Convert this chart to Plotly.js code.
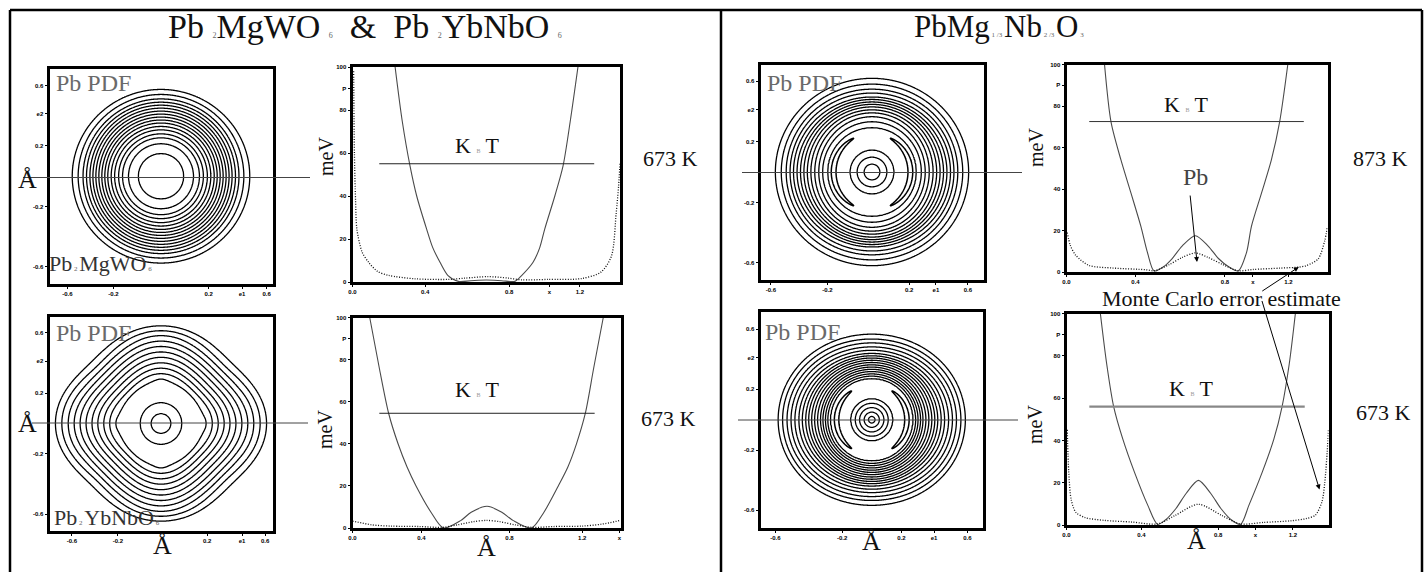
<!DOCTYPE html>
<html><head><meta charset="utf-8">
<script src="https://cdn.plot.ly/plotly-3.0.1.min.js"></script>
<style>body{margin:0;background:#fff}#chart{width:1425px;height:572px}</style>
</head><body><div id="chart"></div>
<script>
// ================= DATA =================
// Pb PDF contour rings: radius (Å-axis units) where each ring crosses the
// horizontal (H), diagonal (D) and vertical (V) directions.
const mgwoRingsH = [0.153,0.219,0.259,0.285,0.312,0.335,0.358,0.378,0.398,0.418,0.438,0.458,0.478,0.501,0.524,0.557,0.597];
const mgwoRingsV = [0.153,0.219,0.259,0.285,0.312,0.335,0.358,0.378,0.398,0.418,0.438,0.458,0.478,0.498,0.520,0.550,0.584];

const ybnbRingsH = [0.066,0.139,0.305,0.345,0.385,0.425,0.464,0.504,0.544,0.584,0.624,0.667,0.710];
const ybnbRingsD = [0.066,0.139,0.275,0.309,0.342,0.375,0.408,0.441,0.474,0.508,0.541,0.577,0.624];
const ybnbRingsV = [0.066,0.139,0.299,0.335,0.372,0.408,0.445,0.481,0.518,0.554,0.591,0.624,0.657];

const pmn873RingsH = [0.053,0.100,0.146,0.299,0.332,0.358,0.385,0.411,0.435,0.458,0.481,0.504,0.528,0.551,0.577,0.610,0.650];
const pmn873RingsV = [0.053,0.100,0.146,0.299,0.338,0.372,0.398,0.418,0.438,0.455,0.471,0.488,0.504,0.531,0.557,0.591,0.630];
const pmn873Arc = [0.258, 0.016, 0.88];   // arc radius, half width, sin(angular half-extent)

const pmn673RingsH = [0.022,0.051,0.082,0.111,0.140,0.279,0.296,0.312,0.329,0.345,0.365,0.385,0.405,0.425,0.445,0.468,0.491,0.518,0.544,0.571,0.601,0.631];
const pmn673RingsV = [0.022,0.051,0.082,0.111,0.140,0.279,0.294,0.309,0.325,0.340,0.355,0.370,0.386,0.401,0.416,0.431,0.447,0.468,0.491,0.518,0.544,0.577];
const pmn673Arc = [0.237, 0.015, 0.82];

// Effective potentials (meV) along the Pb displacement (Å)
const mgwoSolidX = [0.223,0.26,0.301,0.336,0.388,0.42,0.458,0.50,0.554,0.62,0.70,0.78,0.85,0.885,0.945,0.98,1.006,1.059,1.102,1.14,1.18];
const mgwoSolid  = [100,75,54,40,24.6,16,9.2,3,0.3,0.6,0.9,0.6,0.3,3,9.2,16,24.6,40,54,75,100];
const mgwoDotX = [0.006,0.01,0.016,0.023,0.05,0.084,0.13,0.188,0.327,0.50,0.59,0.71,0.815,0.885,1.02,1.198,1.30,1.355,1.38,1.393,1.40];
const mgwoDot  = [98,60,38,24.6,14,9.2,5,3.1,1.5,1.2,1.8,2.5,1.8,1.0,1.2,1.6,4.6,12,32,45,55];

const ybnbSolidX = [0.09,0.14,0.189,0.238,0.285,0.332,0.41,0.475,0.565,0.62,0.703,0.78,0.84,0.935,1.00,1.075,1.125,1.17,1.216,1.26,1.31];
const ybnbSolid  = [100,76,54.4,40,29,20,7.5,0,3.5,7.5,10.3,7.5,3.5,0,7.5,20,29,40,54.4,76,100];
const ybnbDotX = [0.0,0.1,0.2,0.35,0.47,0.55,0.63,0.70,0.77,0.85,0.94,1.05,1.2,1.3,1.4];
const ybnbDot  = [3.3,1.5,0.9,0.7,0.3,1.5,3.0,3.6,3.0,1.5,0.3,0.7,0.9,1.8,3.6];

const pmn873SolidX = [0.204,0.239,0.292,0.346,0.399,0.434,0.47,0.52,0.567,0.62,0.691,0.76,0.815,0.87,0.921,0.966,0.992,1.046,1.099,1.143,1.187];
const pmn873Solid  = [100,72.2,54,38,22,9.5,0.5,2.5,6.5,12.5,17.5,12.5,6.5,2.5,0.5,9.5,22,38,54,72.2,100];
const pmn873DotX = [0.004,0.02,0.05,0.12,0.25,0.425,0.47,0.55,0.62,0.691,0.76,0.84,0.921,1.0,1.15,1.25,1.29,1.35,1.385,1.40];
const pmn873Dot  = [19,13,8,3.2,1.9,1.1,0.6,3.5,7,9.2,7,3.5,0.6,1.2,1.9,2.4,3.2,6.3,15,22];

const pmn673SolidX = [0.181,0.215,0.252,0.301,0.363,0.434,0.487,0.53,0.585,0.64,0.705,0.77,0.825,0.88,0.93,0.975,1.046,1.108,1.152,1.19,1.223];
const pmn673Solid  = [100,76,56,40.6,25,9.4,0.3,2.5,7.8,15,21.1,15,7.8,2.5,0.3,9.4,25,40.6,56,76,100];
const pmn673DotX = [0.004,0.012,0.025,0.05,0.1,0.2,0.35,0.487,0.58,0.705,0.83,0.93,1.05,1.2,1.28,1.33,1.365,1.38,1.397,1.40];
const pmn673Dot  = [45,25,12,6,3.5,2.2,1.4,0.5,4.5,9.8,4.5,0.5,1.2,2.0,3.0,4.7,11,20,40,45];

// k_B T levels (meV) and their drawn extent (Å)
const kbtMgwo = 55, kbtYbnb = 54.5, kbt873 = 72.5, kbt673 = 56;
const kbtSpanLeft  = [0.14, 1.265];
const kbtSpanRight = [0.122, 1.273];

// tick labels
const contourTickTextX = ['-0.6','-0.2','0.2','e1','0.6'];
const contourTickTextY = ['-0.6','-0.2','0.2','e2','0.6'];
const contourTickValsY = [-0.61,-0.205,0.205,0.42,0.61];
const mgwoTickValsX   = [-0.63,-0.32,0.32,0.545,0.71];
const ybnbTickValsX   = [-0.60,-0.29,0.31,0.545,0.70];
const pmn873TickValsX = [-0.68,-0.30,0.25,0.43,0.645];
const pmn673TickValsX = [-0.65,-0.20,0.20,0.42,0.645];
const potTickValsY = [0,20,40,60,80,90,100];
const potTickTextY = ['0','20','40','60','80','P','100'];
const potTickTextX = ['0.0','0.4','0.8','x','1.2'];
const potTickTextXD = ['0.0','0.4','0.8','1.2','x'];
const mgwoPotTickX = [0,0.38,0.82,1.03,1.19];
const ybnbPotTickX = [0,0.36,0.82,1.2,1.395];
const pmn873PotTickX = [0,0.37,0.85,1.0,1.19];
const pmn673PotTickX = [0,0.40,0.81,1.01,1.21];

// ================= HELPERS =================
const W = 1425, H = 572;
const PX = x => x / W, PY = y => 1 - y / H;
const SERIF = '"Liberation Serif", "Times New Roman", Times, serif';

function grid(half, n){ const a=[]; for(let i=0;i<n;i++) a.push(-half + 2*half*i/(n-1)); return a; }
function ringIndex(r, radii){
  const n = radii.length;
  if (r <= radii[0]) return r / radii[0];
  for (let k=1;k<n;k++) if (r <= radii[k]) return k + (r-radii[k-1])/(radii[k]-radii[k-1]);
  return n + (r-radii[n-1])/(radii[n-1]-radii[n-2]);
}
function fieldValue(x, y, rH, rV, rD){
  const r = Math.hypot(x,y);
  const phi = Math.atan2(Math.abs(y), Math.abs(x));
  const h = ringIndex(r,rH), v = ringIndex(r,rV);
  if (!rD){ const c = Math.cos(phi)**2; return c*h + (1-c)*v; }
  const d = ringIndex(r,rD);
  if (phi <= Math.PI/4){ const s=(1-Math.cos(4*phi))/2; return (1-s)*h + s*d; }
  const s=(1-Math.cos(4*phi-Math.PI))/2; return (1-s)*d + s*v;
}
function ringTrace(n, rH, rV, rD, halfX, halfY){
  const xs = grid(halfX, 261), ys = grid(halfY, Math.round(261*halfY/halfX));
  const z = ys.map(y => xs.map(x => fieldValue(x,y,rH,rV,rD)));
  return {type:'contour', x:xs, y:ys, z, xaxis:'x'+n, yaxis:'y'+n, autocontour:false,
    contours:{start:1,end:rH.length,size:1,coloring:'none'},
    line:{color:'#000',width:1.3,smoothing:1}, showscale:false, hoverinfo:'skip'};
}
function arcTrace(n, arc){
  const [ra, wa, sa] = arc;
  const xs = grid(0.4, 321), ys = grid(0.4, 321);
  const z = ys.map(y => xs.map(x => {
    const r = Math.hypot(x,y) || 1e-9;
    return Math.hypot((r-ra)/wa, (Math.abs(y)/r)/sa);
  }));
  return {type:'contour', x:xs, y:ys, z, xaxis:'x'+n, yaxis:'y'+n, autocontour:false,
    contours:{start:1,end:2,size:5,coloring:'none'},
    line:{color:'#000',width:1.5,smoothing:1}, showscale:false, hoverinfo:'skip'};
}
function curve(n, xs, ys, dotted){
  return {type:'scatter', mode:'lines', x:xs, y:ys, xaxis:'x'+n, yaxis:'y'+n, hoverinfo:'skip',
    line: dotted ? {color:'#111',width:1.3,dash:'1px,1.6px',shape:'spline',smoothing:0.8}
                 : {color:'#4a4a4a',width:1.1,shape:'spline',smoothing:0.8}};
}
function kbtLine(n, span, level, color, width){
  return {type:'scatter', mode:'lines', x:span, y:[level,level], xaxis:'x'+n, yaxis:'y'+n,
    hoverinfo:'skip', line:{color, width}};
}

// boxes (pixel positions of each plotting area)
const box = {
  1:{x:[49.5,272.5], y:[69,283.5]},    // Pb2MgWO6 PDF
  2:{x:[49.5,272.5], y:[316.5,530.5]}, // Pb2YbNbO6 PDF
  3:{x:[352.5,620], y:[67,282]},       // Pb2MgWO6 potential
  4:{x:[352.5,620.5], y:[317.5,528]},  // Pb2YbNbO6 potential
  5:{x:[760.5,983.5], y:[64.5,279.5]}, // PMN 873 PDF
  6:{x:[760.5,983], y:[311.5,528]},    // PMN 673 PDF
  7:{x:[1066.5,1327.5], y:[64.5,272]}, // PMN 873 potential
  8:{x:[1066.5,1328.5], y:[313.5,525]} // PMN 673 potential
};
const halfX = 0.75;
const halfY = n => halfX * (box[n].y[1]-box[n].y[0]) / (box[n].x[1]-box[n].x[0]);

// ================= TRACES =================
const traces = [
  ringTrace(1, mgwoRingsH, mgwoRingsV, null, halfX, halfY(1)),
  ringTrace(2, ybnbRingsH, ybnbRingsV, ybnbRingsD, halfX, halfY(2)),
  ringTrace(5, pmn873RingsH, pmn873RingsV, null, halfX, halfY(5)),
  arcTrace(5, pmn873Arc),
  ringTrace(6, pmn673RingsH, pmn673RingsV, null, halfX, halfY(6)),
  arcTrace(6, pmn673Arc),
  curve(3, mgwoSolidX, mgwoSolid, false), curve(3, mgwoDotX, mgwoDot, true),
  kbtLine(3, kbtSpanLeft, kbtMgwo, '#222', 1),
  curve(4, ybnbSolidX, ybnbSolid, false), curve(4, ybnbDotX, ybnbDot, true),
  kbtLine(4, kbtSpanLeft, kbtYbnb, '#222', 1),
  curve(7, pmn873SolidX, pmn873Solid, false), curve(7, pmn873DotX, pmn873Dot, true),
  kbtLine(7, kbtSpanRight, kbt873, '#333', 1),
  curve(8, pmn673SolidX, pmn673Solid, false), curve(8, pmn673DotX, pmn673Dot, true),
  kbtLine(8, kbtSpanRight, kbt673, '#888', 2.2)
];

// ================= LAYOUT =================
const tickFont = {family:'"Liberation Sans", Arial, sans-serif', size:6, color:'#000', weight:'bold'};
function axis(n, dir, extra){
  const b = box[n];
  const dom = dir==='x' ? [PX(b.x[0]), PX(b.x[1])] : [PY(b.y[1]), PY(b.y[0])];
  return Object.assign({domain:dom, anchor:(dir==='x'?'y':'x')+n, showline:true, linewidth:3,
    linecolor:'#000', mirror:true, showgrid:false, zeroline:false, ticks:'outside', ticklen:2,
    tickwidth:1, tickcolor:'#000', tickfont:tickFont, tickmode:'array', fixedrange:true}, extra);
}
const layout = {width:W, height:H, margin:{l:0,r:0,t:0,b:0}, paper_bgcolor:'#fff',
  plot_bgcolor:'rgba(0,0,0,0)', showlegend:false, font:{family:SERIF, size:14, color:'#111'}};
[[1,mgwoTickValsX],[2,ybnbTickValsX],[5,pmn873TickValsX],[6,pmn673TickValsX]].forEach(([n,tv])=>{
  layout['xaxis'+n] = axis(n,'x',{range:[-halfX,halfX], tickvals:tv, ticktext:contourTickTextX});
  layout['yaxis'+n] = axis(n,'y',{range:[-halfY(n),halfY(n)], tickvals:contourTickValsY, ticktext:contourTickTextY});
});
[[3,mgwoPotTickX,potTickTextX],[4,ybnbPotTickX,potTickTextXD],[7,pmn873PotTickX,potTickTextX],[8,pmn673PotTickX,potTickTextX]].forEach(([n,tv,tt])=>{
  layout['xaxis'+n] = axis(n,'x',{range:[0,1.4], tickvals:tv, ticktext:tt});
  layout['yaxis'+n] = axis(n,'y',{range:[0,100], tickvals:potTickValsY, ticktext:potTickTextY});
});
layout.xaxis = layout.xaxis1; layout.yaxis = layout.yaxis1;
layout.xaxis.anchor = 'y'; layout.yaxis.anchor = 'x';
delete layout.xaxis1; delete layout.yaxis1;
traces.forEach(t => { if (t.xaxis==='x1'){ t.xaxis='x'; t.yaxis='y'; } });

// small subscript-like characters kept on the baseline (as in the reference)
const sub = (t, size, color) => `<span style="font-size:${size||8}px;color:${color||'#666'}">${t}</span>`;
function label(text, x, y, size, extra){
  return Object.assign({xref:'paper', yref:'paper', x:PX(x), y:PY(y), text, showarrow:false,
    xanchor:'center', yanchor:'middle', font:{family:SERIF, size, color:'#111'}}, extra||{});
}
const kbt = `K ${sub('B',6,'#999')} T`;
const pdfFont = {font:{family:SERIF, size:24, color:'#6a6a6a'}};
const cmpFont = {font:{family:SERIF, size:22, color:'#333'}};
const ann = [
  label(`Pb ${sub('2',8)}MgWO ${sub('6',8)}  &amp;  Pb ${sub('2',8)}YbNbO ${sub('6',8)}`, 365, 27, 34),
  label(`PbMg${sub(' 1 /3 ',7)}Nb${sub(' 2 /3 ',7)}O${sub(' 3',7)}`, 999, 27, 31),
  label('Pb PDF', 93, 83, 24, pdfFont), label('Pb PDF', 93, 333, 24, pdfFont),
  label('Pb PDF', 804, 83, 24, pdfFont), label('Pb PDF', 802, 332, 24, pdfFont),
  label(`Pb${sub(' 2 ',7)}MgWO${sub(' 6',7)}`, 100, 263, 22, cmpFont),
  label(`Pb${sub(' 2 ',7)}YbNbO${sub(' 6',7)}`, 107, 517, 22, cmpFont),
  label('Å', 27, 179, 26), label('Å', 27, 423, 26),
  label('Å', 162, 545, 26), label('Å', 487, 547, 26), label('Å', 871, 541, 26), label('Å', 1196, 540, 26),
  label('meV', 326, 157, 20, {textangle:-90}), label('meV', 325, 430, 20, {textangle:-90}),
  label('meV', 1036, 148, 20, {textangle:-90}), label('meV', 1035, 425, 20, {textangle:-90}),
  label('673 K', 670, 158, 22), label('673 K', 668, 418, 22),
  label('873 K', 1380, 159, 22), label('673 K', 1383, 413, 22),
  label(kbt, 477, 145, 22), label(kbt, 477, 389, 22), label(kbt, 1186, 104, 22), label(kbt, 1191, 388, 22),
  label('Pb', 1195, 177, 24, {font:{family:SERIF,size:24,color:'#444'}}),
  label('Monte Carlo error estimate', 1221, 298, 22),
  {xref:'x7', yref:'y7', x:0.70, y:4.8, ax:-7, ay:-68, text:'', showarrow:true, arrowhead:2, arrowsize:1, arrowwidth:1, arrowcolor:'#000', standoff:0},
  {xref:'x7', yref:'y7', x:1.246, y:2.4, ax:-38, ay:25, text:'', showarrow:true, arrowhead:2, arrowsize:1, arrowwidth:1, arrowcolor:'#000', standoff:0},
  {xref:'x8', yref:'y8', x:1.352, y:16.8, ax:-58, ay:-190, text:'', showarrow:true, arrowhead:2, arrowsize:1, arrowwidth:1, arrowcolor:'#000', standoff:0}
];
layout.annotations = ann;

const seg = (x0,y0,x1,y1,color,width) => ({type:'line', xref:'paper', yref:'paper',
  x0:PX(x0), y0:PY(y0), x1:PX(x1), y1:PY(y1), line:{color, width}});
layout.shapes = [
  seg(10,10,1422,10,'#000',2.5), seg(10,10,10,572,'#000',2.5),
  seg(721,10,721,572,'#000',2.5), seg(1422,10,1422,572,'#000',2.5),
  seg(23,177.5,310,177.5,'#444',1), seg(32,423,308,423,'#444',1),
  seg(742,172.5,1022,172.5,'#444',1), seg(738,420,1018,420,'#444',1)
];

Plotly.newPlot('chart', traces, layout, {staticPlot:true});
</script></body></html>
